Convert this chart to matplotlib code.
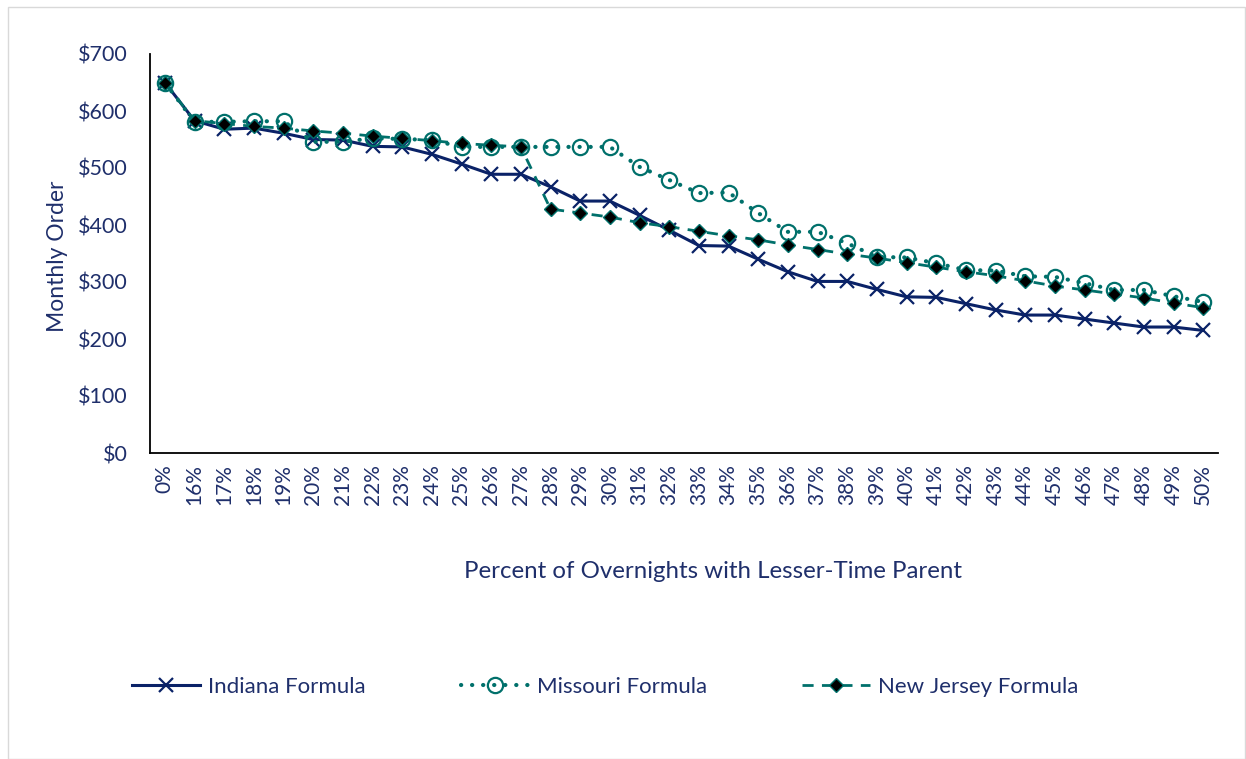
import matplotlib
matplotlib.use("Agg")
import matplotlib.pyplot as plt
from matplotlib.patches import Rectangle

categories = ["0%"] + [f"{p}%" for p in range(16, 51)]

indiana = [650, 583, 568, 570, 561, 550, 549, 538, 537, 524, 507, 489, 489,
           467, 442, 442, 417, 391, 364, 363, 340, 318, 301, 301, 287,
           274, 273, 262, 251, 242, 242, 235, 228, 221, 221, 215]
missouri = [650, 581, 581, 582, 582, 546, 546, 552, 551, 549, 537, 537, 537,
            537, 537, 537, 502, 479, 456, 457, 421, 388, 388, 368, 344,
            343, 333, 321, 320, 310, 309, 298, 286, 286, 275, 265]
new_jersey = [650, 583, 578, 573, 570, 565, 561, 556, 552, 548, 543, 540, 537,
              428, 421, 414, 404, 397, 389, 381, 374, 365, 357, 349, 342,
              334, 326, 318, 311, 302, 293, 286, 279, 272, 263, 255]

navy = "#0A2267"
teal = "#00706B"
text_col = "#1F2F6B"
font = ["Lato", "DejaVu Sans"]
plt.rcParams["font.family"] = font

fig = plt.figure(figsize=(12.46, 7.59), dpi=100)
fig.patches.append(Rectangle((8/1246, 0), 1 - 8/1246 - 0.001, 1 - 7/759,
                             transform=fig.transFigure, fill=False,
                             edgecolor="#D9D9D9", linewidth=1))
ax = fig.add_axes([150/1246, 1 - 453/759, (1218 - 150)/1246, (453 - 54)/759])

x = list(range(len(categories)))
ax.plot(x, indiana, color=navy, linewidth=2.2, marker="x", markersize=10,
        markeredgewidth=1.6, label="Indiana Formula", zorder=3)
ax.plot(x, missouri, color=teal, linewidth=3.0, linestyle=(0, (0.05, 2.6)),
        dash_capstyle="round", marker="o", markersize=11, markerfacecolor="none",
        markeredgecolor=teal, markeredgewidth=1.6, label="Missouri Formula", zorder=4)
ax.plot(x, new_jersey, color=teal, linewidth=2.0, linestyle=(0, (4, 3)),
        marker="D", markersize=7, markerfacecolor="black", markeredgecolor=teal,
        markeredgewidth=1.0, label="New Jersey Formula", zorder=5)

ax.set_xlim(-0.5, len(categories) - 0.5)
ax.set_ylim(0, 700)
ax.set_yticks(range(0, 701, 100))
ax.set_yticklabels([f"${v}" for v in range(0, 701, 100)], fontsize=15.5, color=text_col)
ax.set_xticks(x)
ax.set_xticklabels(categories, rotation=90, fontsize=15, color=text_col)
ax.tick_params(axis="x", length=0, pad=8)
ax.tick_params(axis="y", length=0, pad=16)
for s in ["top", "right"]:
    ax.spines[s].set_visible(False)
for s in ["left", "bottom"]:
    ax.spines[s].set_color("black")
    ax.spines[s].set_linewidth(1.3)

fig.text(57 / 1246, 1 - 256 / 759, "Monthly Order", rotation=90,
         ha="center", va="center", fontsize=16.5, color=text_col)
fig.text((462 + 965) / 2 / 1246, 1 - 572 / 759,
         "Percent of Overnights with Lesser-Time Parent",
         ha="center", va="center", fontsize=17.3, color=text_col)

leg = fig.legend(loc="center left", bbox_to_anchor=(132 / 1246, 1 - 687 / 759), ncol=3,
                 frameon=False, fontsize=16, handlelength=3.05, columnspacing=4.3,
                 handletextpad=0.36, borderpad=0, borderaxespad=0)
for t in leg.get_texts():
    t.set_color(text_col)

fig.savefig("out.png", dpi=100)
